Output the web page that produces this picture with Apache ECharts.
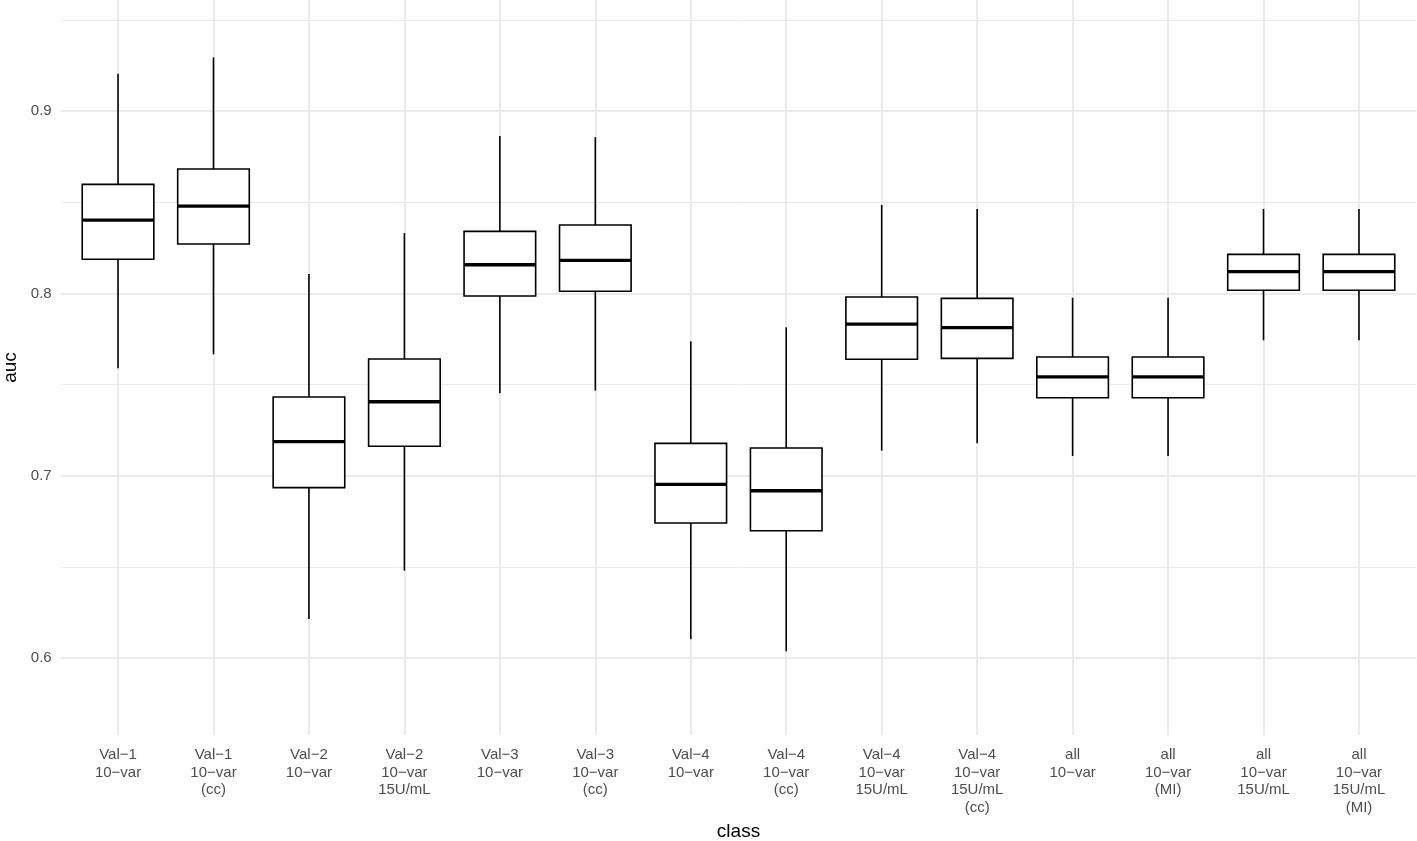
<!DOCTYPE html>
<html>
<head>
<meta charset="utf-8">
<script src="https://cdn.jsdelivr.net/npm/echarts@6/dist/echarts.min.js"></script>
<style>
  html, body { margin: 0; padding: 0; background: #fff; }
  #chart { width: 1417px; height: 841px; }
</style>
</head>
<body>
<div id="chart"></div>
<script>
const categories = [
  'Val\u22121\n10\u2212var',
  'Val\u22121\n10\u2212var\n(cc)',
  'Val\u22122\n10\u2212var',
  'Val\u22122\n10\u2212var\n15U/mL',
  'Val\u22123\n10\u2212var',
  'Val\u22123\n10\u2212var\n(cc)',
  'Val\u22124\n10\u2212var',
  'Val\u22124\n10\u2212var\n(cc)',
  'Val\u22124\n10\u2212var\n15U/mL',
  'Val\u22124\n10\u2212var\n15U/mL\n(cc)',
  'all\n10\u2212var',
  'all\n10\u2212var\n(MI)',
  'all\n10\u2212var\n15U/mL',
  'all\n10\u2212var\n15U/mL\n(MI)'
];
const whiskerLow  = [0.7589, 0.7666, 0.6215, 0.6480, 0.7452, 0.7467, 0.6104, 0.6038, 0.7138, 0.7178, 0.7109, 0.7109, 0.7743, 0.7743];
const q1          = [0.8187, 0.8271, 0.6935, 0.7162, 0.7986, 0.8012, 0.6741, 0.6699, 0.7639, 0.7644, 0.7428, 0.7428, 0.8017, 0.8017];
const median      = [0.8402, 0.8479, 0.7187, 0.7406, 0.8157, 0.8181, 0.6953, 0.6918, 0.7832, 0.7812, 0.7542, 0.7542, 0.8119, 0.8119];
const q3          = [0.8598, 0.8682, 0.7432, 0.7640, 0.8340, 0.8375, 0.7178, 0.7152, 0.7980, 0.7973, 0.7651, 0.7651, 0.8214, 0.8214];
const whiskerHigh = [0.9204, 0.9294, 0.8106, 0.8331, 0.8863, 0.8857, 0.7737, 0.7814, 0.8485, 0.8463, 0.7976, 0.7976, 0.8463, 0.8463];
const yMajorTicks = [0.6, 0.7, 0.8, 0.9];
const yMinorTicks = [0.65, 0.75, 0.85, 0.95];
const yMin = 0.55789;
const yMax = 0.96086;

const FONT = 'Liberation Sans, Arial, Helvetica, sans-serif';
const GRID_COLOR = '#ebebeb';

const chart = echarts.init(document.getElementById('chart'), null, { renderer: 'canvas' });

const boxData = categories.map((c, i) => [i, whiskerLow[i], q1[i], median[i], q3[i], whiskerHigh[i]]);

const gridLines = [].concat(
  yMajorTicks.map(v => ({ yAxis: v, lineStyle: { color: GRID_COLOR, width: 2, type: 'solid' } })),
  yMinorTicks.map(v => ({ yAxis: v, lineStyle: { color: GRID_COLOR, width: 1, type: 'solid' } })),
  categories.map((c, i) => ({ xAxis: i + 1, lineStyle: { color: GRID_COLOR, width: 2, type: 'solid' } }))
);

const option = {
  animation: false,
  backgroundColor: '#ffffff',
  textStyle: { fontFamily: FONT },
  grid: [
    { left: 60.7, right: 0.7, top: 0, bottom: 106, containLabel: false, outerBoundsMode: 'none' },
    { left: 70.3, right: 10.3, top: 0, bottom: 106, containLabel: false, outerBoundsMode: 'none' }
  ],
  xAxis: [
    { gridIndex: 0, type: 'value', min: 0.4, max: 14.6, show: false },
    {
      gridIndex: 1, type: 'category', data: categories,
      axisLine: { show: false }, axisTick: { show: false }, splitLine: { show: false },
      axisLabel: { interval: 0, color: '#4d4d4d', fontSize: 15, lineHeight: 17.7, margin: 11, fontFamily: FONT, align: 'center' },
      name: 'class', nameLocation: 'middle', nameGap: 87,
      nameTextStyle: { fontSize: 19, color: '#000', fontFamily: FONT }
    }
  ],
  yAxis: [
    {
      gridIndex: 0, type: 'value', min: yMin, max: yMax,
      axisLine: { show: false }, axisTick: { show: false }, splitLine: { show: false },
      axisLabel: { customValues: yMajorTicks, color: '#4d4d4d', fontSize: 15, margin: 9, fontFamily: FONT },
      name: 'auc', nameLocation: 'middle', nameRotate: 90, nameGap: 39,
      nameTextStyle: { fontSize: 19, color: '#000', fontFamily: FONT }
    },
    { gridIndex: 1, type: 'value', min: yMin, max: yMax, show: false }
  ],
  series: [
    {
      type: 'line', xAxisIndex: 0, yAxisIndex: 0, data: [], z: 0, silent: true,
      markLine: { symbol: ['none', 'none'], silent: true, label: { show: false }, animation: false, data: gridLines }
    },
    {
      type: 'custom', xAxisIndex: 1, yAxisIndex: 1, z: 5, data: boxData,
      encode: { x: 0, y: [1, 2, 3, 4, 5] },
      renderItem: function (params, api) {
        const x = api.value(0);
        const lo = api.coord([x, api.value(1)]);
        const p1 = api.coord([x, api.value(2)]);
        const pm = api.coord([x, api.value(3)]);
        const p3 = api.coord([x, api.value(4)]);
        const hi = api.coord([x, api.value(5)]);
        const bw = api.size([1, 0])[0] * 0.75;
        const cx = lo[0];
        const stroke = { stroke: '#000', lineWidth: 1.6 };
        return {
          type: 'group',
          children: [
            { type: 'line', shape: { x1: cx, y1: hi[1], x2: cx, y2: p3[1] }, style: stroke },
            { type: 'line', shape: { x1: cx, y1: p1[1], x2: cx, y2: lo[1] }, style: stroke },
            { type: 'rect', shape: { x: cx - bw / 2, y: p3[1], width: bw, height: p1[1] - p3[1] },
              style: { fill: '#ffffff', stroke: '#000', lineWidth: 1.6 } },
            { type: 'line', shape: { x1: cx - bw / 2, y1: pm[1], x2: cx + bw / 2, y2: pm[1] },
              style: { stroke: '#000', lineWidth: 3.3 } }
          ]
        };
      }
    }
  ]
};

chart.setOption(option);
</script>
</body>
</html>
